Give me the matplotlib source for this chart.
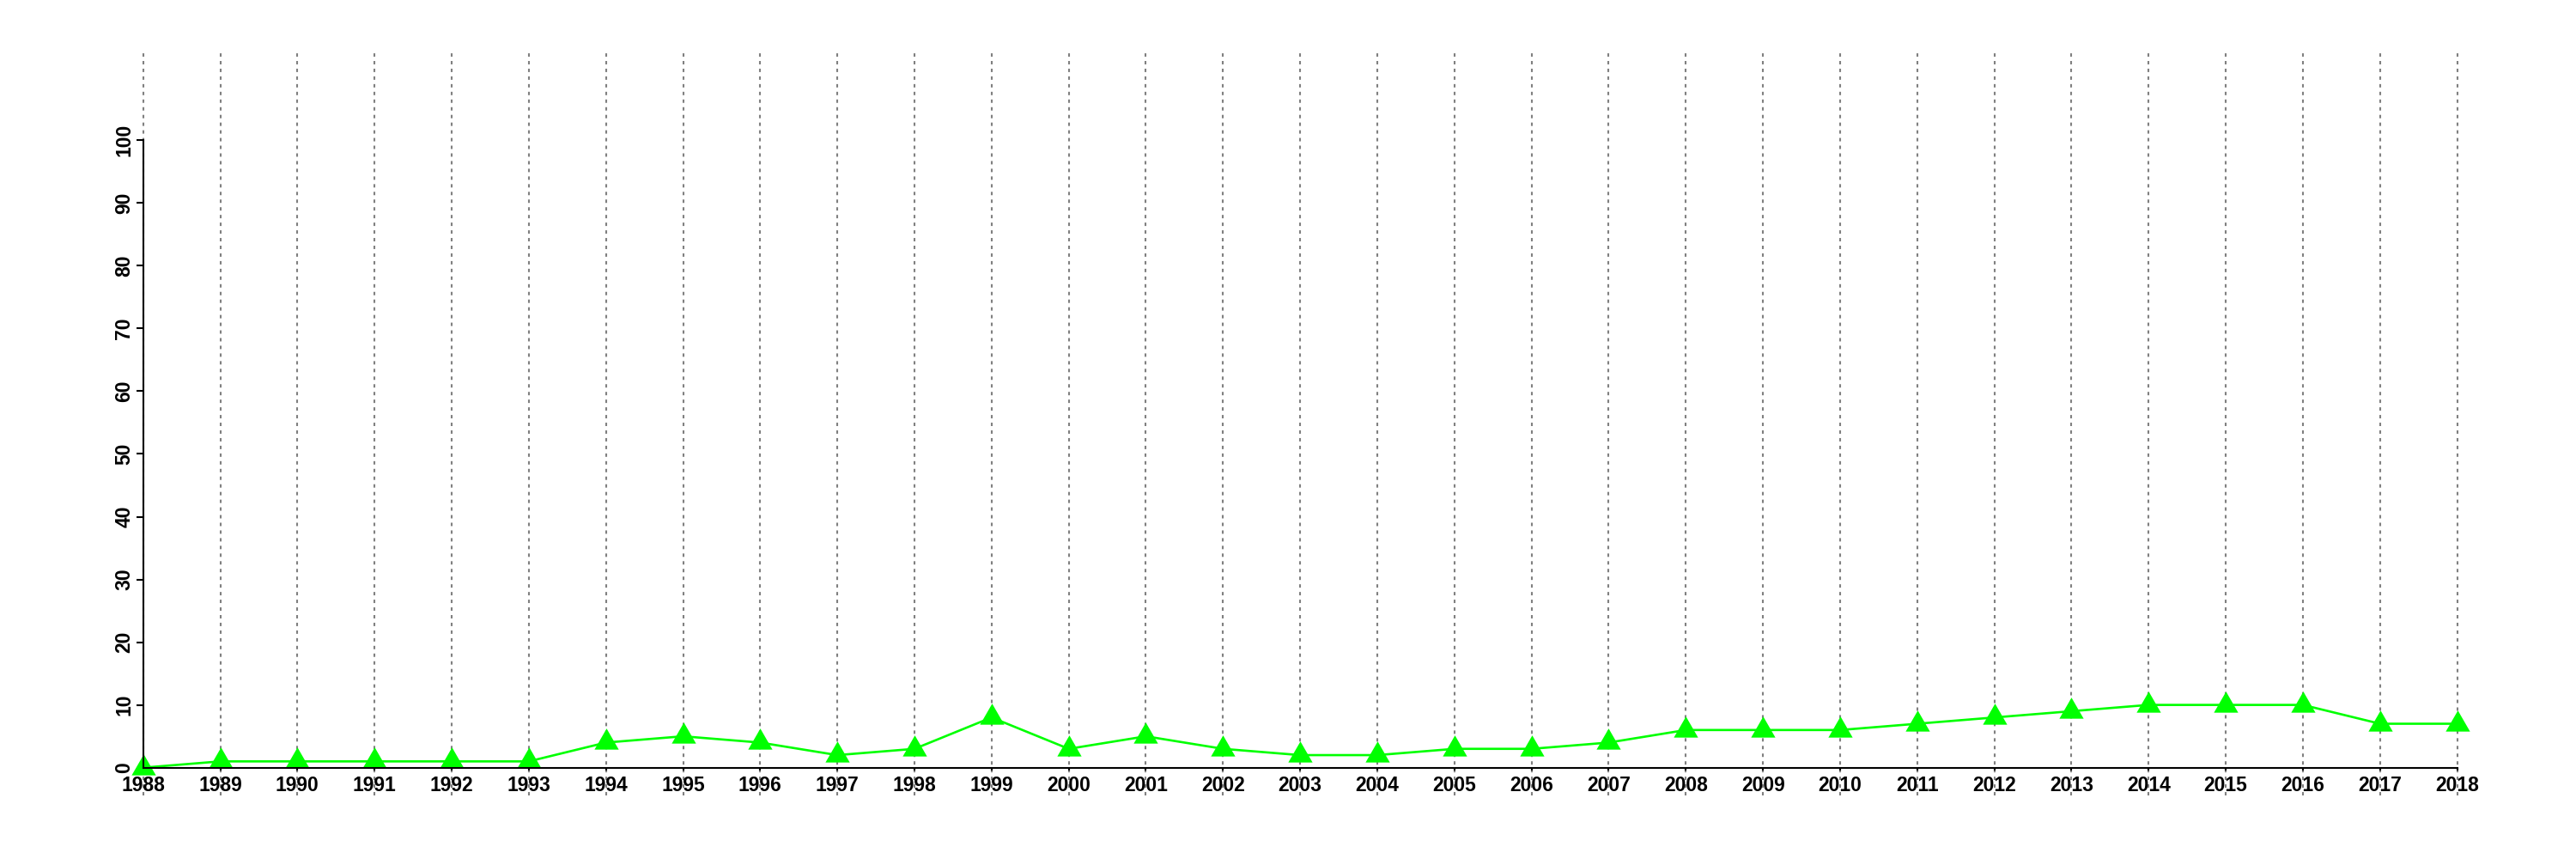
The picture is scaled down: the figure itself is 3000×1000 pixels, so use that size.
import matplotlib
matplotlib.use("Agg")
import matplotlib.pyplot as plt
from matplotlib.path import Path

years = list(range(1988, 2019))
values = [0, 1, 1, 1, 1, 1, 4, 5, 4, 2, 3, 8, 3, 5, 3, 2, 2, 3, 3, 4,
          6, 6, 6, 7, 8, 9, 10, 10, 10, 7, 7]
yticks = list(range(0, 101, 10))

plt.rcParams['font.family'] = ['Liberation Sans', 'DejaVu Sans']
plt.rcParams['font.weight'] = 'bold'

fig = plt.figure(figsize=(30, 10), dpi=100)
ax = fig.add_axes([58.9 / 3000, 1 - 925.8 / 1000, 2910.5 / 3000, 867.7 / 1000])
ax.set_xlim(1986.8, 2019.2)
ax.set_ylim(-4.4, 114.4)

for yr in years:
    ax.axvline(yr, color='#808080', lw=1.5, ls=(0, (1.9, 2.4)), zorder=1)

tri = Path([(0, 1.0), (-0.866, -0.5), (0.866, -0.5), (0, 1.0)],
           [Path.MOVETO, Path.LINETO, Path.LINETO, Path.CLOSEPOLY])
ax.plot(years, values, color='#00FF00', lw=1.9, marker=tri, markersize=23.5,
        markerfacecolor='#00FF00', markeredgecolor='#00FF00', markeredgewidth=0,
        zorder=3, clip_on=False)

for s in ['top', 'right']:
    ax.spines[s].set_visible(False)
ax.spines['left'].set_position(('data', 1988))
ax.spines['left'].set_bounds(0, 100)
ax.spines['bottom'].set_position(('data', 0))
ax.spines['bottom'].set_bounds(1988, 2018)
for s in ['left', 'bottom']:
    ax.spines[s].set_linewidth(1.5)
    ax.spines[s].set_zorder(5)

ax.set_xticks(years)
ax.set_xticklabels([str(y) for y in years], fontsize=16.5, fontweight='bold')
ax.set_yticks(yticks)
ax.set_yticklabels([str(v) for v in yticks], fontsize=16.5, fontweight='bold',
                   rotation=90, va='center')
ax.tick_params(axis='x', length=2, width=1.5, pad=4.7, direction='out')
ax.tick_params(axis='y', length=6, width=1.5, pad=1.5, direction='out')
ax.patch.set_visible(False)

fig.savefig('out.png', dpi=100)
